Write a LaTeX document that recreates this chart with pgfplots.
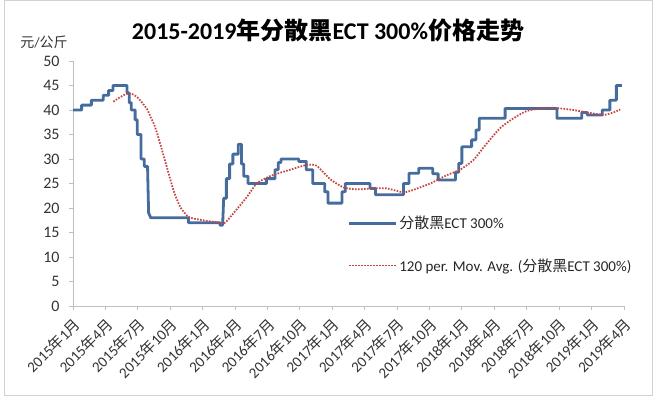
\documentclass[border=0pt]{standalone}
\usepackage{fontspec}
\usepackage{pgfplots}
\pgfplotsset{compat=1.18}
\setmainfont{Carlito}
\newfontfamily\cjk{Noto Sans CJK SC}
\definecolor{bl}{RGB}{70,108,158}
\definecolor{rd}{RGB}{196,70,66}
\definecolor{ax}{RGB}{191,191,191}
\newcommand\ym[2]{#1{\cjk 年}#2{\cjk 月}}
\begin{document}
\begin{tikzpicture}[x=1bp,y=1bp]
\begin{axis}[
  at={(0,0)}, anchor=south west,
  scale only axis, width=552bp, height=245bp,
  xmin=0, xmax=51.1, ymin=0, ymax=50,
  axis lines=left, axis line style={-, draw=ax, line width=0.8bp},
  xtick={0,3,...,51}, ytick={0,5,...,50},
  xticklabels={\ym{2015}{1},\ym{2015}{4},\ym{2015}{7},\ym{2015}{10},\ym{2016}{1},\ym{2016}{4},\ym{2016}{7},\ym{2016}{10},\ym{2017}{1},\ym{2017}{4},\ym{2017}{7},\ym{2017}{10},\ym{2018}{1},\ym{2018}{4},\ym{2018}{7},\ym{2018}{10},\ym{2019}{1},\ym{2019}{4}},
  tick align=outside, major tick length=4bp, tick style={draw=ax, line width=0.8bp},
  /pgf/number format/assume math mode=true,
  ticklabel style={text=black!80},
  xticklabel style={font=\fontsize{15bp}{18bp}\selectfont, rotate=45, anchor=north east, inner sep=1bp, xshift=-4bp, yshift=-3bp},
  yticklabel style={font=\fontsize{16bp}{19bp}\selectfont, xshift=-6bp},
  legend style={at={(0.497,0.375)}, anchor=north west, draw=none, fill=none, inner sep=0pt,
    row sep=24bp, font=\fontsize{15bp}{18bp}\selectfont, text=black!85},
  legend cell align=left,
  legend image code/.code={\draw[#1] (0bp,0bp) -- (47bp,0bp);},
]
\addplot[bl, line width=2.8bp, line join=round] coordinates {
(0,40) (0.8,40) (0.8,41) (1.7,41) (1.7,42) (2.8,42) (2.8,43) (3.3,43) (3.3,44) (3.7,44) (3.7,45) (5.0,45)
(5.0,43.5) (5.2,43.5) (5.2,41.5) (5.4,41.5) (5.4,40) (5.75,40) (5.75,38) (5.95,38) (5.95,35) (6.3,35)
(6.3,30) (6.6,30) (6.6,28.5) (6.9,28.5) (7.0,19) (7.2,18) (10.7,18) (10.7,17) (13.6,17) (13.6,16.5)
(13.85,16.5) (13.95,22) (14.2,22) (14.2,26) (14.5,26) (14.5,29) (14.8,29) (14.8,31) (15.3,31) (15.3,33)
(15.6,33) (15.6,29) (15.8,29) (15.8,26.5) (16.2,26.5) (16.2,25) (17.9,25) (17.9,26) (18.7,26) (18.7,27.8)
(19.0,27.8) (19.0,29.3) (19.25,29.3) (19.25,30) (20.9,30) (20.9,29.5) (21.6,29.5) (21.6,27.8) (22.2,27.8)
(22.2,25) (23.3,25) (23.3,23.3) (23.6,23.3) (23.6,21) (24.9,21) (24.9,23.3) (25.2,23.3) (25.2,25) (27.5,25)
(27.5,24) (28.0,24) (28.0,22.7) (30.6,22.7) (30.6,25) (31.1,25) (31.1,27.1) (32.0,27.1) (32.0,28.1) (33.3,28.1)
(33.3,27) (33.8,27) (33.8,25.7) (35.4,25.7) (35.4,27.3) (35.7,27.3) (35.7,29.1) (36.0,29.1) (36.0,32.5)
(36.9,32.5) (36.9,33.9) (37.3,33.9) (37.3,35.9) (37.6,35.9) (37.6,38.3) (40.0,38.3) (40.0,40.3) (44.8,40.3)
(44.8,38.3) (47.1,38.3) (47.1,39.5) (47.6,39.5) (47.6,39) (49.0,39) (49.0,40) (49.7,40) (49.7,42) (50.3,42)
(50.3,45) (50.8,45)
};
\addlegendentry{{\cjk 分散黑}ECT 300\%}
\addplot[rd, line width=1.8bp, dash pattern=on 1.6bp off 1.4bp, smooth, tension=0.4] coordinates {
(3.73,41.7) (4.35,42.6) (4.97,43.3) (5.44,43.3) (6.0,42.5) (6.82,40.3) (7.2,38.5) (7.59,36.6) (8.06,33.2)
(8.68,28.4) (9.29,23.7) (9.91,20.3) (10.68,18.2) (11.76,17.6) (13.61,17.0) (14.07,17.0) (14.84,18.9)
(16.08,22.2) (17.0,25) (18.24,26.5) (19.79,27.6) (21.64,28.8) (22.56,28.6) (23.8,25.9) (25.03,24.2)
(26.27,23.8) (27.81,24) (29.05,24) (30.58,23.2) (31.5,23.7) (33.06,25) (34.6,26.7) (35.83,27.8)
(37.06,29.8) (38.31,33.2) (39.54,36.3) (40.77,38.3) (42.01,39.8) (43.55,40.4) (44.79,40.4) (46.32,40)
(47.56,39.5) (49.1,39) (50.03,39.5) (50.65,40.1)
};
\addlegendentry{120 per. Mov. Avg. ({\cjk 分散黑}ECT 300\%)}
\end{axis}
\draw[ax!70, line width=0.8bp] (-69,-89) rectangle (579,306);
\node[font=\fontsize{24bp}{27bp}\selectfont\bfseries] at (255,276) {2015-2019{\cjk 年分散黑}ECT 300\%{\cjk 价格走势}};
\node[font=\fontsize{14bp}{16bp}\selectfont, text=black!80] at (-29,264) {{\cjk 元}/{\cjk 公斤}};
\pgfresetboundingbox
\useasboundingbox (-73,-93) rectangle (587,306);
\end{tikzpicture}
\end{document}
